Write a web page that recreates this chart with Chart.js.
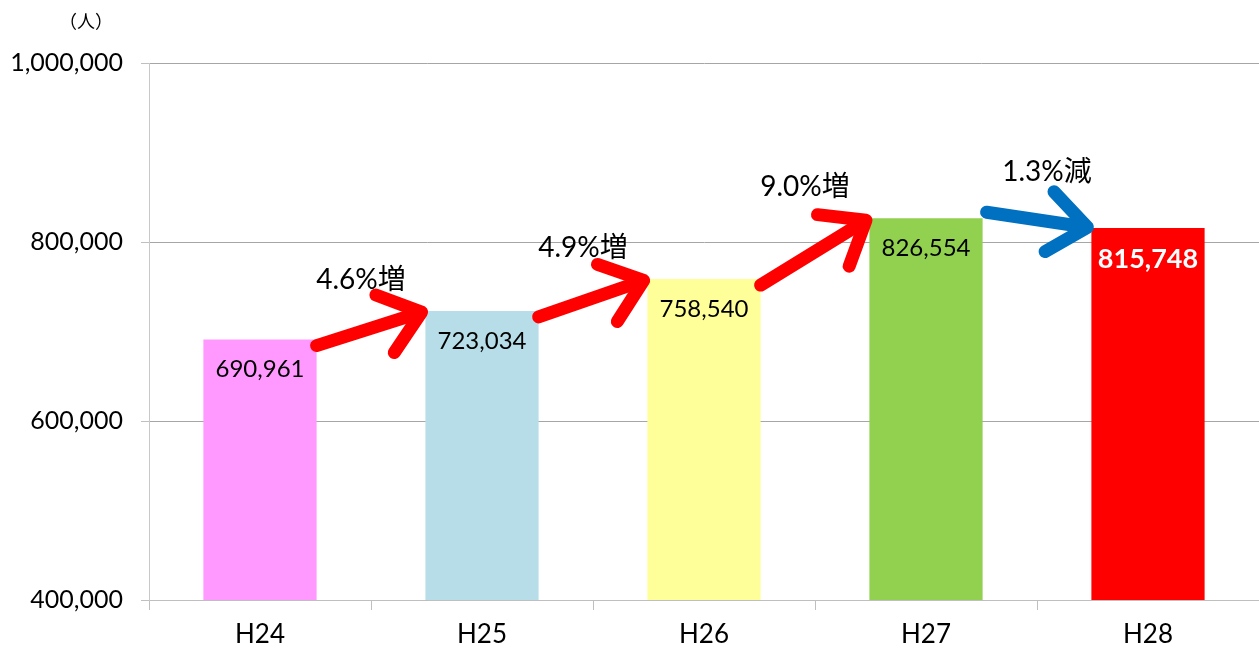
<!DOCTYPE html>
<html>
<head>
<meta charset="utf-8">
<script src="https://cdn.jsdelivr.net/npm/chart.js@4"></script>
<style>
  html, body { margin: 0; padding: 0; background: #fff; }
  #wrap { width: 1259px; height: 655px; position: relative; }
</style>
</head>
<body>
<div id="wrap"><canvas id="c"></canvas></div>
<script>
// data
const categories = ["H24", "H25", "H26", "H27", "H28"];
const visitors = [690961, 723034, 758540, 826554, 815748];
const barColors = ["#FF99FF", "#B7DEE8", "#FFFF99", "#92D050", "#FF0000"];
const changeLabels = ["4.6%増", "4.9%増", "9.0%増", "1.3%減"];
const yTicks = [400000, 600000, 800000, 1000000];

const FONT = "Lato, 'Noto Sans CJK JP', sans-serif";

// value labels inside the top of each bar
const valueLabels = {
    id: "valueLabels",
    afterDatasetsDraw(chart) {
        const ctx = chart.ctx;
        const meta = chart.getDatasetMeta(0);
        ctx.save();
        ctx.textAlign = "center";
        ctx.textBaseline = "middle";
        meta.data.forEach((bar, i) => {
            const last = i === visitors.length - 1;
            ctx.font = (last ? "bold 27px " : "24px ") + FONT;
            ctx.fillStyle = last ? "#ffffff" : "#000000";
            ctx.fillText(visitors[i].toLocaleString("en-US"), bar.x, bar.y + (last ? 31 : 30));
        });
        ctx.restore();
    }
};

// growth arrows between bars
const changeArrows = {
    id: "changeArrows",
    afterDatasetsDraw(chart) {
        const ctx = chart.ctx;
        const meta = chart.getDatasetMeta(0);
        const xScale = chart.scales.x;
        ctx.save();
        for (let i = 0; i < meta.data.length - 1; i++) {
            const a = meta.data[i], b = meta.data[i + 1];
            const down = visitors[i + 1] < visitors[i];
            const color = down ? "#0070C0" : "#FF0000";
            const x1 = a.x + a.width / 2 + (down ? 4 : 0);
            const y1 = a.y + (down ? -6 : 6);
            const x2 = b.x - b.width / 2;
            const y2 = b.y;
            const ang = Math.atan2(y2 - y1, x2 - x1);
            const head = 52, spread = 0.62;

            ctx.strokeStyle = color;
            ctx.lineWidth = 13;
            ctx.lineCap = "round";
            ctx.lineJoin = "round";
            ctx.beginPath();
            ctx.moveTo(x1, y1);
            ctx.lineTo(x2 - 6 * Math.cos(ang), y2 - 6 * Math.sin(ang));
            ctx.stroke();
            ctx.beginPath();
            ctx.moveTo(x2 - head * Math.cos(ang - spread), y2 - head * Math.sin(ang - spread));
            ctx.lineTo(x2 - 4 * Math.cos(ang), y2 - 4 * Math.sin(ang));
            ctx.lineTo(x2 - head * Math.cos(ang + spread), y2 - head * Math.sin(ang + spread));
            ctx.stroke();

            // label above arrow
            const bx = (xScale.getPixelForValue(i) + xScale.getPixelForValue(i + 1)) / 2;
            ctx.fillStyle = "#000";
            ctx.font = "28px " + FONT;
            ctx.textAlign = "center";
            ctx.textBaseline = "middle";
            ctx.fillText(changeLabels[i], bx - 10 + (down ? 20 : 0), Math.min(y1, y2) - (down ? 40 : 31));
        }
        ctx.restore();
    }
};

// unit label
const unitLabel = {
    id: "unitLabel",
    afterDraw(chart) {
        const ctx = chart.ctx;
        ctx.save();
        ctx.font = "18px 'Noto Sans CJK JP', sans-serif";
        ctx.fillStyle = "#000";
        ctx.textAlign = "center";
        ctx.textBaseline = "middle";
        ctx.fillText("（人）", 86, 21);
        ctx.restore();
    }
};

new Chart(document.getElementById("c"), {
    type: "bar",
    data: {
        labels: categories,
        datasets: [{
            data: visitors,
            backgroundColor: barColors,
            borderWidth: 0,
            categoryPercentage: 1,
            barPercentage: 0.51
        }]
    },
    options: {
        responsive: true,
        maintainAspectRatio: false,
        animation: false,
        layout: { padding: { top: 63, right: 0, left: 0, bottom: 0 } },
        plugins: {
            legend: { display: false },
            tooltip: { enabled: false }
        },
        scales: {
            x: {
                grid: {
                    offset: true,
                    drawOnChartArea: false,
                    drawTicks: true,
                    tickLength: 10,
                    color: "#bfbfbf"
                },
                border: { color: "#bfbfbf" },
                ticks: {
                    color: "#000",
                    font: { size: 26, family: FONT },
                    padding: 9
                },
                afterFit(scale) { scale.height = 55; }
            },
            y: {
                min: 400000,
                max: 1000000,
                afterBuildTicks(scale) {
                    scale.ticks = yTicks.map(v => ({ value: v }));
                },
                grid: {
                    color: "#a6a6a6",
                    tickLength: 8,
                    tickColor: "#bfbfbf"
                },
                border: { color: "#c8c8c8" },
                ticks: {
                    color: "#000",
                    font: { size: 25, family: FONT },
                    padding: 18,
                    callback: v => v.toLocaleString("en-US")
                },
                afterFit(scale) { scale.width = 149; }
            }
        }
    },
    plugins: [valueLabels, changeArrows, unitLabel]
});
</script>
</body>
</html>
